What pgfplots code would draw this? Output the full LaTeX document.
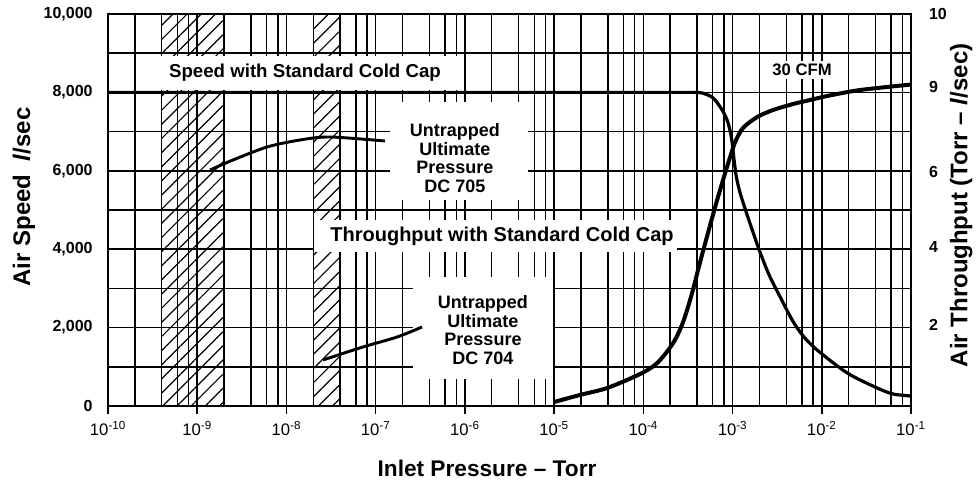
\documentclass[border=0pt]{standalone}
\usepackage{pgfplots}
\pgfplotsset{compat=1.18}
\usepackage{fontspec}
\setmainfont{Liberation Sans}
\usetikzlibrary{patterns.meta}
\begin{document}
\begin{tikzpicture}[x=1pt,y=1pt]
\begin{axis}[
  set layers,
  at={(81pt,58.5pt)}, anchor=south west,
  width=602.25pt, height=294pt, scale only axis,
  xmode=log, xmin=1e-10, xmax=1e-1,
  ymin=0, ymax=10000,
  scaled y ticks=false,
  xtick={1e-10,1e-9,1e-8,1e-7,1e-6,1e-5,1e-4,1e-3,1e-2,1e-1},
  xticklabels={10\textsuperscript{-10},10\textsuperscript{-9},10\textsuperscript{-8},10\textsuperscript{-7},10\textsuperscript{-6},10\textsuperscript{-5},10\textsuperscript{-4},10\textsuperscript{-3},10\textsuperscript{-2},10\textsuperscript{-1}},
  minor xtick={2e-10,4e-10,6e-10,8e-10,2e-9,4e-9,6e-9,8e-9,2e-8,4e-8,6e-8,8e-8,2e-7,4e-7,6e-7,8e-7,2e-6,4e-6,6e-6,8e-6,2e-5,4e-5,6e-5,8e-5,2e-4,4e-4,6e-4,8e-4,2e-3,4e-3,6e-3,8e-3,2e-2,4e-2,6e-2,8e-2},
  ytick={0,2000,4000,6000,8000,10000},
  yticklabels={0,{2,000},{4,000},{6,000},{8,000},{10,000}},
  minor ytick={1000,3000,5000,7000,9000},
  grid=both,
  major grid style={black, line width=1.2pt},
  minor grid style={black, line width=1.1pt},
  axis line style={black, line width=1.3pt},
  xtick pos=left, ytick pos=left,
  xtick align=outside,
  major tick length=6pt, minor tick length=0pt,
  ytick style={draw=none},
  xtick style={black, line width=1.1pt},
  xticklabel style={font=\fontsize{12.5}{14}\selectfont, yshift=-2pt},
  yticklabel style={font=\bfseries\fontsize{12}{14}\selectfont, anchor=east, xshift=-8pt},
]
% hatched bands (under the grid)
\addplot[on layer=axis background, draw=black, line width=0.9pt, pattern={Lines[angle=45,distance=7.5pt,line width=0.9pt]}]
  coordinates {(4e-10,0) (4e-10,10000) (2e-9,10000) (2e-9,0)} \closedcycle;
\addplot[on layer=axis background, draw=black, line width=0.9pt, pattern={Lines[angle=45,distance=7.5pt,line width=0.9pt]}]
  coordinates {(2e-8,0) (2e-8,10000) (4e-8,10000) (4e-8,0)} \closedcycle;
% blank areas of the chart paper
\fill[white] (axis cs:2.1e-10,8070) rectangle (axis cs:9.5e-7,8940);
\fill[white] (axis cs:1.45e-7,5250) rectangle (axis cs:5.1e-6,7750);
\fill[white] (axis cs:2.05e-8,3930) rectangle (axis cs:2.4e-4,4750);
\fill[white] (axis cs:2.6e-7,700) rectangle (axis cs:9.6e-6,3300);
% speed curve
\addplot[black, line width=2.4pt, smooth, tension=0.5] coordinates {
 (1e-10,8000) (1e-6,8000) (1e-4,8000) (2.5e-4,8000) (3.6e-4,8000) (4.56e-4,7985) (6.07e-4,7857)
 (7.64e-4,7551) (8.69e-4,7296)
 (9.4e-4,7015) (9.91e-4,6709) (1.04e-3,6276) (1.10e-3,5867) (1.19e-3,5510) (1.35e-3,5102)
 (1.62e-3,4566) (1.99e-3,3980) (2.57e-3,3342) (3.51e-3,2730) (4.66e-3,2194) (6.18e-3,1786)
 (8.87e-3,1429) (1.93e-2,842) (4.18e-2,459) (6.31e-2,306) (1e-1,255)};
% throughput curve
\addplot[black, line width=3pt, smooth, tension=0.5] coordinates {
 (1e-5,102) (1.95e-5,281) (3.93e-5,459) (9.2e-5,816) (1.43e-4,1097) (2.16e-4,1607)
 (2.79e-4,2143) (3.52e-4,2883) (4.33e-4,3673) (5.61e-4,4617) (6.72e-4,5255) (8.26e-4,5944)
 (9.4e-4,6352) (1.07e-3,6735) (1.31e-3,7092) (1.89e-3,7372) (2.85e-3,7551) (4.78e-3,7704)
 (7.41e-3,7806) (1.15e-2,7908) (2.69e-2,8061) (1e-1,8200)};
% untrapped DC 705
\addplot[black, line width=2.2pt, smooth] coordinates {
 (1.39e-9,6020) (2.52e-9,6276) (6.07e-9,6607) (1.42e-8,6786) (3.08e-8,6862) (1.27e-7,6760)};
% untrapped DC 704
\addplot[black, line width=2.2pt, smooth] coordinates {
 (2.57e-8,1173) (7.2e-8,1505) (1.74e-7,1760) (3.31e-7,2015)};
% labels
\node[font=\bfseries\fontsize{14}{16}\selectfont] at (rel axis cs:0.2453,0.8495) {Speed with Standard Cold Cap};
\node[font=\bfseries\fontsize{12.5}{14}\selectfont, fill=white, inner sep=2pt] at (rel axis cs:0.8643,0.857) {30 CFM};
\node[font=\bfseries\fontsize{13.5}{13.9}\selectfont, align=center] at (rel axis cs:0.4321,0.6327) {Untrapped\\Ultimate\\Pressure\\DC 705};
\node[font=\bfseries\fontsize{15}{17}\selectfont] at (rel axis cs:0.4907,0.4337) {Throughput with Standard Cold Cap};
\node[font=\bfseries\fontsize{13.5}{13.9}\selectfont, align=center] at (rel axis cs:0.4670,0.1939) {Untrapped\\Ultimate\\Pressure\\DC 704};
\end{axis}
\begin{axis}[
  at={(81pt,58.5pt)}, anchor=south west,
  width=602.25pt, height=294pt, scale only axis,
  xmode=log, xmin=1e-10, xmax=1e-1,
  ymin=0, ymax=10000,
  scaled y ticks=false,
  axis x line=none, axis y line*=right,
  axis line style={black, line width=1.3pt},
  ytick={2066,4056,5969,8138,10000},
  yticklabels={2,4,6,9,10},
  ytick style={draw=none},
  yticklabel style={font=\bfseries\fontsize{12}{14}\selectfont, anchor=west, xshift=10pt},
]
\addplot[draw=none] coordinates {(1e-10,0) (1e-1,10000)};
\end{axis}
\node[font=\bfseries\fontsize{17}{19}\selectfont] at (365.25,12) {Inlet Pressure -- Torr};
\node[font=\bfseries\fontsize{18}{20}\selectfont, rotate=90] at (18,215.25) {Air Speed \ \textit{l}/sec};
\node[font=\bfseries\fontsize{18}{20}\selectfont, rotate=90] at (721,209) {Air Throughput (Torr -- \textit{l}/sec)};
\pgfresetboundingbox
\path[use as bounding box] (0,0) rectangle (732,363);
\end{tikzpicture}
\end{document}
